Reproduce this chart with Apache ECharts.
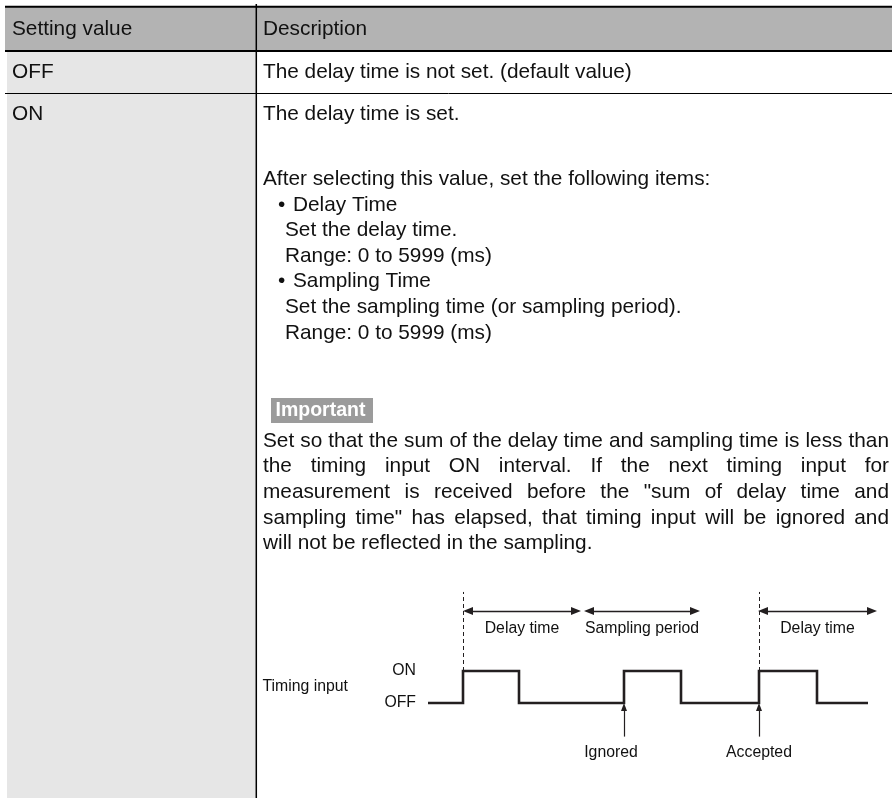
<!DOCTYPE html>
<html><head><meta charset="utf-8">
<script src="https://cdn.jsdelivr.net/npm/echarts@6/dist/echarts.min.js"></script>
<style>html,body{margin:0;padding:0;background:#fff}#c{width:892px;height:798px}</style>
</head><body><div id="c"></div>
<script>
// ---------- table content ----------
const headerLabels = ['Setting value', 'Description'];
const settingValues = ['OFF', 'ON'];
const offDescription = 'The delay time is not set. (default value)';
const onIntro = 'The delay time is set.';
const onItemsIntro = 'After selecting this value, set the following items:';
const itemTitles = ['Delay Time', 'Sampling Time'];
const itemLines = [
  ['Set the delay time.', 'Range: 0 to 5999 (ms)'],
  ['Set the sampling time (or sampling period).', 'Range: 0 to 5999 (ms)']
];
const importantLabel = 'Important';
const importantLines = [
  'Set so that the sum of the delay time and sampling time is less than',
  'the timing input ON interval. If the next timing input for',
  'measurement is received before the "sum of delay time and',
  'sampling time" has elapsed, that timing input will be ignored and',
  'will not be reflected in the sampling.'
];

// ---------- timing diagram data ----------
const signalName = 'Timing input';
const levelNames = ['OFF', 'ON'];
const waveTimes  = [0, 35, 35, 91, 91, 196, 196, 253, 253, 331, 331, 389, 389, 440];
const waveLevels = [0, 0, 1, 1, 0, 0, 1, 1, 0, 0, 1, 1, 0, 0];
const triggerTimes = [35, 331];
const periodLabels = ['Delay time', 'Sampling period', 'Delay time'];
const periodStarts = [35, 156, 330];
const periodEnds   = [153, 272, 449];
const eventLabels = ['Ignored', 'Accepted'];
const eventTimes  = [196, 331];

// ---------- layout / style ----------
const FONT = '"Liberation Sans", Arial, Helvetica, sans-serif';
const FS = 20.8;
const DFS = 15.8;
const INK = '#111';
const LINE_H = 25.6;

function txt(str, x, y, o) {
  o = o || {};
  const font = (o.weight || 'normal') + ' ' + (o.size || FS) + 'px ' + FONT;
  return { type: 'text', x: x, y: y, z: 10, silent: true,
    style: { text: str, font: font, fill: o.fill || INK,
      align: o.align || 'left', verticalAlign: 'middle',
      textAlign: o.align || 'left', textVerticalAlign: 'middle' } };
}
function rect(x, y, w, h, fill, z) {
  return { type: 'rect', z: z || 0, silent: true, shape: { x: x, y: y, width: w, height: h }, style: { fill: fill } };
}
function hline(x1, x2, y, w) {
  return { type: 'line', z: 3, silent: true, shape: { x1: x1, y1: y, x2: x2, y2: y }, style: { stroke: '#000', lineWidth: w } };
}
function vline(x, y1, y2, w) {
  return { type: 'line', z: 3, silent: true, shape: { x1: x, y1: y1, x2: x, y2: y2 }, style: { stroke: '#000', lineWidth: w } };
}

const measureCtx = document.createElement('canvas').getContext('2d');
function measure(s, font) { measureCtx.font = font; return measureCtx.measureText(s).width; }

const graphics = [];
// backgrounds
graphics.push(rect(5, 7, 887, 44, '#b3b3b3', 0));
graphics.push(rect(7, 51, 249, 747, '#e6e6e6', 0));
// lines
graphics.push(hline(5, 892, 6.8, 2));
graphics.push(hline(5, 892, 51, 2));
graphics.push(hline(5, 892, 93.5, 1));
graphics.push(vline(256.3, 4, 798, 1.5));

const COL1 = 12, COL2 = 263;
graphics.push(txt(headerLabels[0], COL1, 29));
graphics.push(txt(headerLabels[1], COL2, 29));
graphics.push(txt(settingValues[0], COL1, 72));
graphics.push(txt(offDescription, COL2, 72));
graphics.push(txt(settingValues[1], COL1, 114));
graphics.push(txt(onIntro, COL2, 114));

let y = 114 + 2 * LINE_H + 14;
graphics.push(txt(onItemsIntro, COL2, y));
itemTitles.forEach(function (t, i) {
  y += LINE_H;
  graphics.push(txt('\u2022', 278, y));
  graphics.push(txt(t, 293, y));
  itemLines[i].forEach(function (l) { y += LINE_H; graphics.push(txt(l, 285, y)); });
});

// Important badge
graphics.push(rect(271, 398, 102, 25, '#9b9b9b', 1));
graphics.push(txt(importantLabel, 275.5, 410.5, { weight: 'bold', fill: '#fff', size: 19.5 }));

// justified paragraph
const paraFont = 'normal ' + FS + 'px ' + FONT;
const PARA_L = 263, PARA_R = 889;
importantLines.forEach(function (line, i) {
  const yy = 441 + i * LINE_H;
  const words = line.split(' ');
  if (i === importantLines.length - 1) { graphics.push(txt(line, PARA_L, yy)); return; }
  const widths = words.map(function (w) { return measure(w, paraFont); });
  const total = widths.reduce(function (a, b) { return a + b; }, 0);
  const gap = (PARA_R - PARA_L - total) / (words.length - 1);
  let x = PARA_L;
  words.forEach(function (w, k) { graphics.push(txt(w, x, yy)); x += widths[k] + gap; });
});

// ---------- chart ----------
const chart = echarts.init(document.getElementById('c'), null, { renderer: 'canvas' });
const wave = waveTimes.map(function (t, i) { return [t, waveLevels[i]]; });
const ARROW_Y = 2.875, DASH_TOP = 3.47, HEAD = 10, EV_BOTTOM = -1.05, EV_HEAD = 8;
const PX_PER_UNIT_Y = 32;

const dashData = triggerTimes.map(function (t) { return [{ coord: [t, 1] }, { coord: [t, DASH_TOP] }]; });
const periodData = periodLabels.map(function (n, i) {
  return [{ name: n, coord: [periodStarts[i] + HEAD / 2, ARROW_Y] }, { name: n, coord: [periodEnds[i] - HEAD / 2, ARROW_Y] }];
});
const eventData = eventLabels.map(function (n, i) {
  return [{ name: n, coord: [eventTimes[i], EV_BOTTOM], label: { offset: i === 0 ? [-13, 0] : [0, 0] } },
          { name: n, coord: [eventTimes[i], -(EV_HEAD / 2) / PX_PER_UNIT_Y] }];
});

chart.setOption({
  animation: false,
  backgroundColor: '#fff',
  graphic: { elements: graphics },
  grid: { left: 428, width: 450, top: 591, height: 192, containLabel: false },
  xAxis: { type: 'value', min: 0, max: 450, show: false },
  yAxis: {
    type: 'value', min: -2.5, max: 3.5, interval: 0.5,
    name: signalName, nameLocation: 'middle', nameRotate: 0, nameGap: 80,
    nameTextStyle: { align: 'right', verticalAlign: 'middle', fontFamily: FONT, fontSize: DFS, color: INK },
    axisLine: { show: false }, axisTick: { show: false }, splitLine: { show: false },
    axisLabel: {
      margin: 12, fontFamily: FONT, fontSize: DFS, color: INK,
      formatter: function (v) { return v === 1 ? levelNames[1] : (v === 0 ? levelNames[0] : ''); }
    }
  },
  series: [
    {
      type: 'line', data: wave, symbol: 'none', silent: true, z: 5,
      lineStyle: { color: '#231f20', width: 2.6, join: 'miter', cap: 'butt' }
    },
    {
      type: 'line', data: [], silent: true,
      markLine: { silent: true, symbol: ['none', 'none'], label: { show: false },
        lineStyle: { color: '#231f20', width: 1, type: [4, 3] }, data: dashData }
    },
    {
      type: 'line', data: [], silent: true,
      markLine: { silent: true, symbol: ['triangle', 'triangle'], symbolSize: [8, HEAD],
        lineStyle: { color: '#231f20', width: 1.4, type: 'solid' },
        label: { show: true, position: 'insideMiddleBottom', distance: 10, formatter: '{b}',
          fontFamily: FONT, fontSize: DFS, color: INK },
        emphasis: { disabled: true }, data: periodData }
    },
    {
      type: 'line', data: [], silent: true,
      markLine: { silent: true, symbol: ['none', 'triangle'], symbolSize: [6, EV_HEAD],
        lineStyle: { color: '#231f20', width: 1.2, type: 'solid' },
        label: { show: true, position: 'start', distance: 8, formatter: '{b}',
          fontFamily: FONT, fontSize: DFS, color: INK },
        emphasis: { disabled: true }, data: eventData }
    }
  ]
});
</script>
</body></html>
